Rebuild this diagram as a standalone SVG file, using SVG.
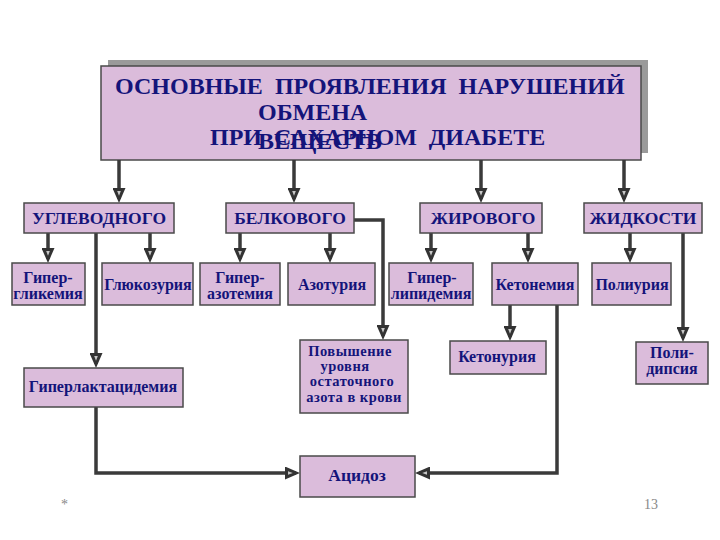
<svg xmlns="http://www.w3.org/2000/svg" width="720" height="540" viewBox="0 0 720 540">
<style>
.box{fill:#dbbcdb;stroke:#4a4a4a;stroke-width:1.5}
.t{font-family:"Liberation Serif","Times New Roman",serif;font-weight:bold;fill:#14147a;text-anchor:middle}
.title{font-size:24px;text-anchor:start}
.cat{font-size:17.5px}
.n{font-size:16px}
.p{font-size:14.5px;letter-spacing:0.5px}
.c{fill:none;stroke:#3a3a3a;stroke-width:3.5}
.a{marker-end:url(#arr)}
.foot{font-family:"Liberation Serif","Times New Roman",serif;font-size:14px;fill:#888}
</style>
<defs>
<marker id="arr" markerUnits="userSpaceOnUse" viewBox="0 0 15 13" markerWidth="15" markerHeight="13" refX="11" refY="6.5" orient="auto">
<path d="M0,0 L15,6.5 L0,13 z" fill="#333"/>
<path d="M3,4.7 L7.8,6.5 L3,8.3 z" fill="#c8c8c8"/>
</marker>
</defs>
<rect width="720" height="540" fill="#fff"/>
<g id="title">
<rect x="108" y="60" width="540" height="93" fill="#9a9a9a"/>
<rect class="box" x="101" y="66" width="540" height="94"/>
<text class="t title" xml:space="preserve" x="115" y="94">ОСНОВНЫЕ  ПРОЯВЛЕНИЯ  НАРУШЕНИЙ</text>
<text class="t title" x="258" y="120">ОБМЕНА</text>
<text class="t title" xml:space="preserve" x="210" y="145">ПРИ  САХАРНОМ  ДИАБЕТЕ</text>
<text class="t title" x="258" y="149">ВЕЩЕСТВ</text>
</g>
<g id="connectors">
<path class="c a" d="M119,160 V199"/>
<path class="c a" d="M294,160 V199"/>
<path class="c a" d="M481,160 V199"/>
<path class="c a" d="M624,160 V199"/>
<path class="c a" d="M48,233 V259"/>
<path class="c a" d="M150,233 V259"/>
<path class="c a" d="M240,233 V259"/>
<path class="c a" d="M330,233 V259"/>
<path class="c a" d="M431,233 V259"/>
<path class="c a" d="M528,233 V259"/>
<path class="c a" d="M630,233 V259"/>
<path class="c a" d="M96,233 V364"/>
<path class="c a" d="M354,220 H383 V336"/>
<path class="c a" d="M510,305 V337"/>
<path class="c a" d="M683,233 V338"/>
<path class="c a" d="M96,407 V473 H296"/>
<path class="c a" d="M557,305 V473 H419"/>
</g>
<g id="uglevodnogo"><rect class="box" x="24" y="203" width="150" height="30"/><text class="t cat" x="99" y="224">УГЛЕВОДНОГО</text></g>
<g id="belkovogo"><rect class="box" x="226" y="203" width="128" height="30"/><text class="t cat" x="290" y="224">БЕЛКОВОГО</text></g>
<g id="zhirovogo"><rect class="box" x="420" y="203" width="122" height="30"/><text class="t cat" x="483" y="224">ЖИРОВОГО</text></g>
<g id="zhidkosti"><rect class="box" x="584" y="203" width="118" height="30"/><text class="t cat" x="643" y="224">ЖИДКОСТИ</text></g>
<g id="giperglikemia"><rect class="box" x="12" y="263" width="73" height="42"/><text class="t n" x="48" y="283">Гипер-</text><text class="t n" x="48" y="299">гликемия</text></g>
<g id="glukozuria"><rect class="box" x="102" y="263" width="91" height="42"/><text class="t n" x="148" y="290">Глюкозурия</text></g>
<g id="giperazotemia"><rect class="box" x="200" y="263" width="80" height="42"/><text class="t n" x="240" y="283">Гипер-</text><text class="t n" x="240" y="299">азотемия</text></g>
<g id="azoturia"><rect class="box" x="288" y="263" width="87" height="42"/><text class="t n" x="332" y="290">Азотурия</text></g>
<g id="giperlipidemia"><rect class="box" x="389" y="263" width="84" height="42"/><text class="t n" x="432" y="283">Гипер-</text><text class="t n" x="431" y="299">липидемия</text></g>
<g id="ketonemia"><rect class="box" x="492" y="263" width="86" height="42"/><text class="t n" x="535" y="290">Кетонемия</text></g>
<g id="poliuria"><rect class="box" x="592" y="263" width="79" height="42"/><text class="t n" x="632" y="290">Полиурия</text></g>
<g id="giperlaktacidemia"><rect class="box" x="24" y="368" width="159" height="39"/><text class="t n" x="103" y="392">Гиперлактацидемия</text></g>
<g id="povyshenie"><rect class="box" x="300" y="340" width="108" height="73"/><text class="t p" x="350" y="356">Повышение</text><text class="t p" x="345" y="371">уровня</text><text class="t p" x="352" y="386">остаточного</text><text class="t p" x="354" y="402">азота в крови</text></g>
<g id="ketonuria"><rect class="box" x="450" y="341" width="96" height="33"/><text class="t n" x="497" y="362">Кетонурия</text></g>
<g id="polidipsia"><rect class="box" x="636" y="342" width="72" height="42"/><text class="t n" x="672" y="358">Поли-</text><text class="t n" x="672" y="374">дипсия</text></g>
<g id="acidoz"><rect class="box" x="300" y="456" width="115" height="41"/><text class="t n" x="357" y="481" style="font-size:17.5px">Ацидоз</text></g>
<text class="foot" x="61" y="509">*</text>
<text class="foot" x="644" y="509">13</text>
</svg>
